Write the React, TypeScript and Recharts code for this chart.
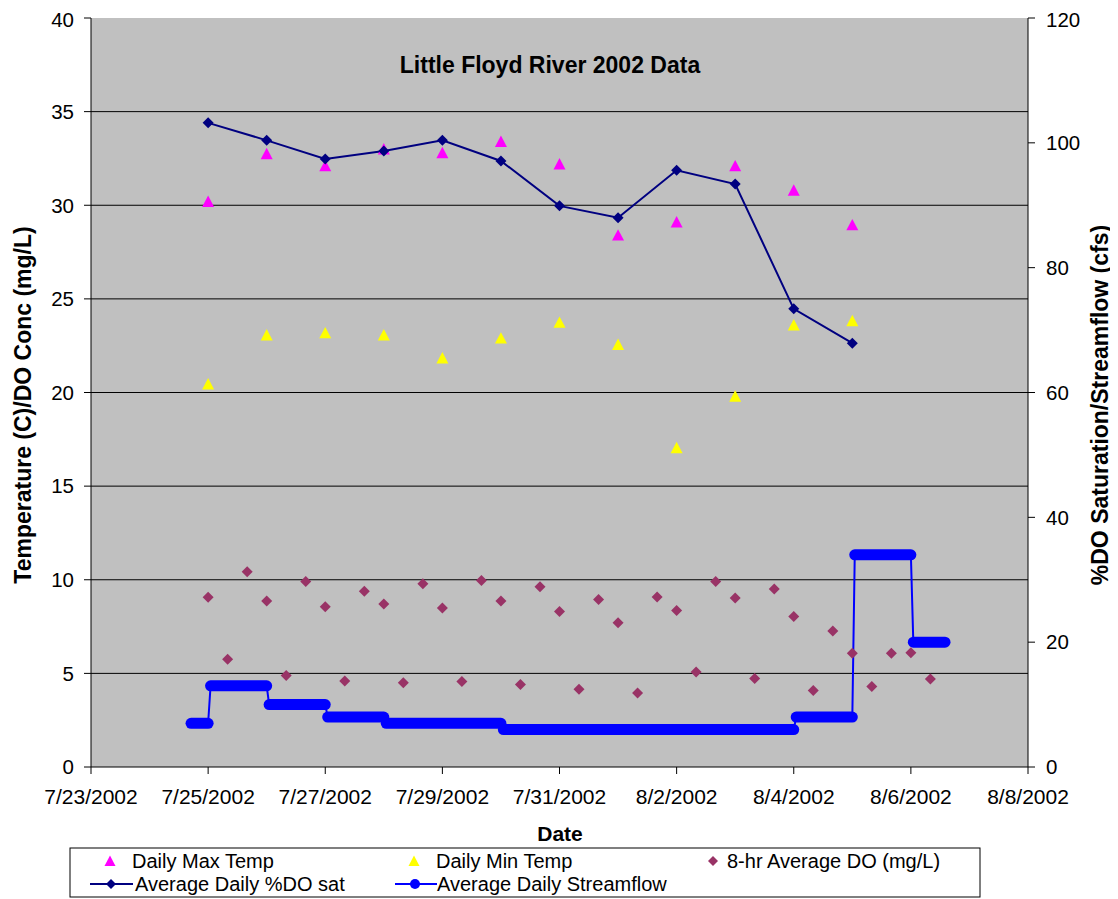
import React from 'react';
import { ComposedChart, Line, Scatter, XAxis, YAxis, CartesianGrid, ReferenceLine } from 'recharts';

// ---- data ----
const dailyDates = ['7/25', '7/26', '7/27', '7/28', '7/29', '7/30', '7/31', '8/1', '8/2', '8/3', '8/4', '8/5'];
const dailyMaxTemp = [30.2, 32.75, 32.1, 33.0, 32.8, 33.4, 32.2, 28.4, 29.1, 32.1, 30.8, 28.95];
const dailyMinTemp = [20.45, 23.07, 23.18, 23.07, 21.84, 22.9, 23.74, 22.56, 17.05, 19.8, 23.6, 23.83];
const avgDoSat = [103.2, 100.4, 97.4, 98.7, 100.4, 97.1, 89.9, 88.0, 95.6, 93.4, 73.4, 67.9];

const doTimes = [
  '7/25 0:00', '7/25 8:00', '7/25 16:00',
  '7/26 0:00', '7/26 8:00', '7/26 16:00',
  '7/27 0:00', '7/27 8:00', '7/27 16:00',
  '7/28 0:00', '7/28 8:00', '7/28 16:00',
  '7/29 0:00', '7/29 8:00', '7/29 16:00',
  '7/30 0:00', '7/30 8:00', '7/30 16:00',
  '7/31 0:00', '7/31 8:00', '7/31 16:00',
  '8/1 0:00', '8/1 8:00', '8/1 16:00',
  '8/2 0:00', '8/2 8:00', '8/2 16:00',
  '8/3 0:00', '8/3 8:00', '8/3 16:00',
  '8/4 0:00', '8/4 8:00', '8/4 16:00',
  '8/5 0:00', '8/5 8:00', '8/5 16:00',
  '8/6 0:00', '8/6 8:00',
];
const do8hr = [
  9.06, 5.75, 10.43,
  8.87, 4.88, 9.9,
  8.56, 4.59, 9.38,
  8.7, 4.5, 9.79,
  8.49, 4.56, 9.96,
  8.87, 4.41, 9.63,
  8.31, 4.15, 8.94,
  7.71, 3.95, 9.08,
  8.36, 5.07, 9.9,
  9.03, 4.72, 9.51,
  8.04, 4.09, 7.26,
  6.07, 4.3, 6.07,
  6.1, 4.7,
];

const flowStart = ['7/24 17:00', '7/25 1:00', '7/26 1:00', '7/27 1:00', '7/28 1:00', '7/30 1:00', '8/4 1:00', '8/5 1:00', '8/6 1:00'];
const flowEnd = ['7/25 0:00', '7/26 0:00', '7/27 0:00', '7/28 0:00', '7/30 0:00', '8/4 0:00', '8/5 0:00', '8/6 0:00', '8/6 14:00'];
const flowCfs = [7, 13, 10, 8, 7, 6, 8, 34, 20];

const xTicks = [0, 2, 4, 6, 8, 10, 12, 14, 16];
const leftTicks = [0, 5, 10, 15, 20, 25, 30, 35, 40];
const rightTicks = [0, 20, 40, 60, 80, 100, 120];
const gridValues = [5, 10, 15, 20, 25, 30, 35];

// ---- helpers ----
const toDay = (s: string) => {
  const [md, hm] = s.split(' ');
  const [m, d] = md.split('/').map(Number);
  const h = hm ? Number(hm.split(':')[0]) : 0;
  const day = m === 7 ? d - 23 : d + 8;
  return day + h / 24;
};
const fmtDate = (v: number) => {
  const d = 23 + v;
  return d <= 31 ? `7/${d}/2002` : `8/${d - 31}/2002`;
};

const maxData = dailyDates.map((d, i) => ({ x: toDay(d), y: dailyMaxTemp[i] }));
const minData = dailyDates.map((d, i) => ({ x: toDay(d), y: dailyMinTemp[i] }));
const satData = dailyDates.map((d, i) => ({ x: toDay(d), y: avgDoSat[i] }));
const doData = doTimes.map((t, i) => ({ x: toDay(t), y: do8hr[i] }));
const flowSegs = flowCfs.map((v, i) => [
  { x: toDay(flowStart[i]), y: v },
  { x: toDay(flowEnd[i]), y: v },
]);
const flowPath = flowSegs.flat();

const tri = (cx: number, cy: number, r: number) =>
  `M${cx},${cy - r} L${cx + r},${cy + r * 0.9} L${cx - r},${cy + r * 0.9} Z`;
const dia = (cx: number, cy: number, r: number) =>
  `M${cx},${cy - r} L${cx + r},${cy} L${cx},${cy + r} L${cx - r},${cy} Z`;

const FONT = '"Liberation Sans", Arial, Helvetica, sans-serif';

export default function App() {
  return (
    <div style={{ position: 'relative', width: 1110, height: 891, fontFamily: FONT }}>
      <ComposedChart width={1110} height={891} margin={{ top: 10, right: 30, bottom: 72, left: 23 }}>
        <CartesianGrid yAxisId="L" horizontal={false} vertical={false} fill="#C0C0C0" />
        {gridValues.map((v) => (
          <ReferenceLine key={v} yAxisId="L" y={v} stroke="#000" strokeWidth={1} />
        ))}
        <XAxis
          type="number"
          dataKey="x"
          domain={[0, 16]}
          ticks={xTicks}
          tickFormatter={fmtDate}
          allowDataOverflow
          height={60}
          tickSize={7}
          tickMargin={15}
          stroke="#000"
          tick={{ fill: '#000', fontSize: 21, fontFamily: FONT }}
        />
        <YAxis
          yAxisId="L"
          orientation="left"
          dataKey="y"
          type="number"
          domain={[0, 40]}
          ticks={leftTicks}
          allowDataOverflow
          width={60}
          tickSize={7}
          tickMargin={10}
          stroke="#000"
          tick={{ fill: '#000', fontSize: 20.5, fontFamily: FONT }}
        />
        <YAxis
          yAxisId="R"
          orientation="right"
          dataKey="y"
          type="number"
          domain={[0, 120]}
          ticks={rightTicks}
          allowDataOverflow
          width={60}
          tickSize={7}
          tickMargin={11}
          stroke="#000"
          tick={{ fill: '#000', fontSize: 20.5, fontFamily: FONT }}
        />
        <Line
          yAxisId="R"
          data={flowPath}
          dataKey="y"
          type="linear"
          stroke="#0000FF"
          strokeWidth={2}
          dot={false}
          activeDot={false}
          isAnimationActive={false}
          name="Average Daily Streamflow"
        />
        {flowSegs.map((seg, i) => (
          <Line
            key={`seg${i}`}
            yAxisId="R"
            data={seg}
            dataKey="y"
            type="linear"
            stroke="#0000FF"
            strokeWidth={11}
            strokeLinecap="round"
            dot={false}
            activeDot={false}
            isAnimationActive={false}
            legendType="none"
          />
        ))}
        <Scatter
          yAxisId="L"
          data={maxData}
          name="Daily Max Temp"
          isAnimationActive={false}
          shape={(p: any) => <path d={tri(p.cx, p.cy, 6)} fill="#FF00FF" />}
        />
        <Scatter
          yAxisId="L"
          data={minData}
          name="Daily Min Temp"
          isAnimationActive={false}
          shape={(p: any) => <path d={tri(p.cx, p.cy, 6)} fill="#FFFF00" />}
        />
        <Scatter
          yAxisId="L"
          data={doData}
          name="8-hr Average DO (mg/L)"
          isAnimationActive={false}
          shape={(p: any) => <path d={dia(p.cx, p.cy, 5.5)} fill="#993366" />}
        />
        <Line
          yAxisId="R"
          data={satData}
          dataKey="y"
          type="linear"
          stroke="#000080"
          strokeWidth={2}
          isAnimationActive={false}
          activeDot={false}
          name="Average Daily %DO sat"
          dot={(p: any) => <path key={`d${p.index}`} d={dia(p.cx, p.cy, 5.5)} fill="#000080" />}
        />
      </ComposedChart>

      <svg
        width={1110}
        height={891}
        style={{ position: 'absolute', left: 0, top: 0, pointerEvents: 'none' }}
        fontFamily={FONT}
      >
        <text x={542} y={65} textAnchor="middle" fontSize={23} fontWeight="bold" fill="#000">
          Little Floyd River 2002 Data
        </text>
        <text
          x={15}
          y={397}
          textAnchor="middle"
          dominantBaseline="central"
          fontSize={23}
          fontWeight="bold"
          fill="#000"
          transform="rotate(-90 15 397)"
        >
          Temperature (C)/DO Conc (mg/L)
        </text>
        <text
          x={1092}
          y={397}
          textAnchor="middle"
          dominantBaseline="central"
          fontSize={23}
          fontWeight="bold"
          fill="#000"
          transform="rotate(-90 1092 397)"
        >
          %DO Saturation/Streamflow (cfs)
        </text>
        <text x={552} y={833} textAnchor="middle" fontSize={21} fontWeight="bold" fill="#000">
          Date
        </text>

        <rect x={62} y={840} width={910} height={49} fill="#fff" stroke="#000" strokeWidth={1} />
        <path d={tri(102, 853, 5.5)} fill="#FF00FF" />
        <text x={124} y={860} fontSize={20} fill="#000">Daily Max Temp</text>
        <path d={tri(406, 853, 5.5)} fill="#FFFF00" />
        <text x={428} y={860} fontSize={20} fill="#000">Daily Min Temp</text>
        <path d={dia(705, 853, 5)} fill="#993366" />
        <text x={719} y={860} fontSize={20} fill="#000">8-hr Average DO (mg/L)</text>

        <line x1={82} y1={876} x2={125} y2={876} stroke="#000080" strokeWidth={2} />
        <path d={dia(103, 876, 5)} fill="#000080" />
        <text x={127} y={883} fontSize={20} fill="#000">Average Daily %DO sat</text>
        <line x1={387} y1={876} x2={429} y2={876} stroke="#0000FF" strokeWidth={2} />
        <circle cx={407} cy={876} r={5} fill="#0000FF" />
        <text x={429} y={883} fontSize={20} fill="#000">Average Daily Streamflow</text>
      </svg>
    </div>
  );
}
